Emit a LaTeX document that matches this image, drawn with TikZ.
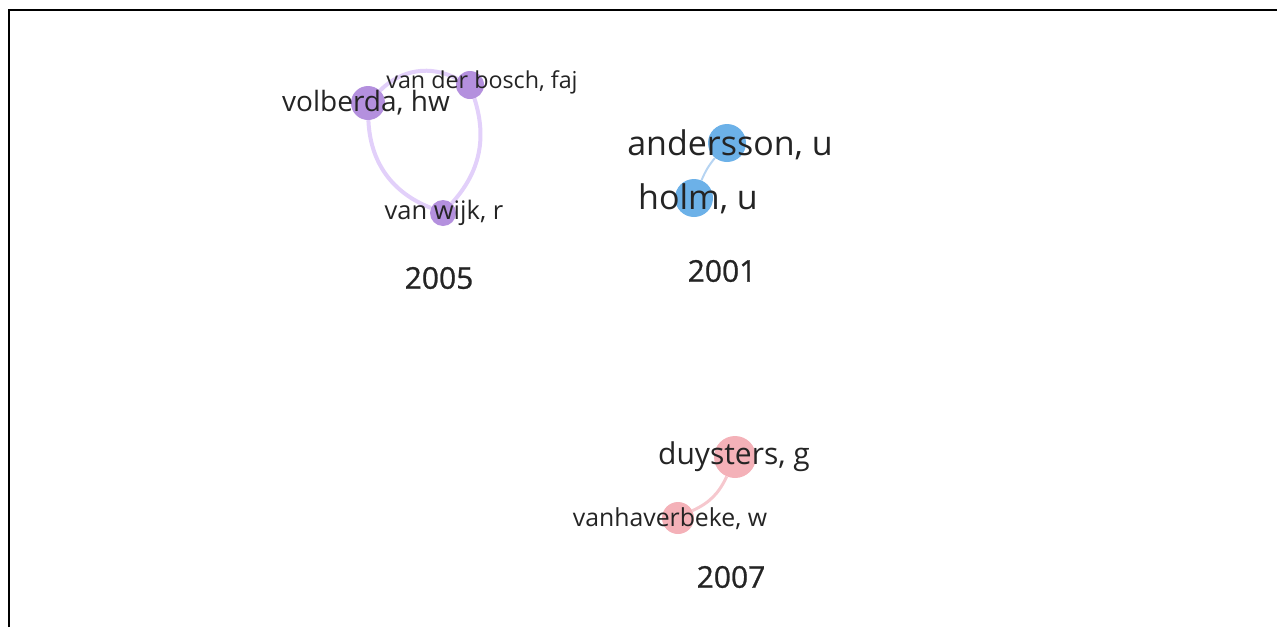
\documentclass[tikz,border=0pt]{standalone}
\usepackage{fontspec}
\setmainfont{Open Sans}
\newfontfamily\yearfont{Open Sans}[FakeBold=0.8]
\usetikzlibrary{positioning}
\pgfdeclarelayer{background}
\pgfsetlayers{background,main}
\definecolor{purplenode}{RGB}{172,132,218}
\definecolor{purplelink}{RGB}{226,208,250}
\definecolor{bluenode}{RGB}{92,168,230}
\definecolor{bluelink}{RGB}{182,212,242}
\definecolor{pinknode}{RGB}{243,168,176}
\definecolor{pinklink}{RGB}{246,200,206}
\definecolor{labeltext}{RGB}{36,36,36}
\newcommand{\fsz}[1]{\fontsize{#1}{#1}\selectfont}

\begin{document}
\begin{tikzpicture}[x=1pt,y=-1pt,
    author/.style={circle,inner sep=0pt,draw=none,fill opacity=0.9},
    authorlabel/.style={text=labeltext,inner sep=0pt},
    yearlabel/.style={text=labeltext,inner sep=0pt,font=\yearfont\fsz{30}}]
   \useasboundingbox (0,0) rectangle (1277,627);
   \draw[line width=2.5pt] (9,627) -- (9,10) -- (1277,10);

   % 2005 cluster
   \node [author,fill=purplenode,minimum size=34] (volberda) at (368,103) {};
   \node [author,fill=purplenode,minimum size=28] (bosch) at (470,85) {};
   \node [author,fill=purplenode,minimum size=26] (wijk) at (443,213) {};
   \node [authorlabel,font=\fsz{28}] (volberda_l) at (366,103) {volberda, hw};
   \node [authorlabel,font=\fsz{23.3}] (bosch_l) at (482,82) {van der bosch, faj};
   \node [authorlabel,font=\fsz{25.5}] (wijk_l) at (444,213) {van wijk, r};
   \node [yearlabel] (y2005) at (439,278) {2005};

   % 2001 cluster
   \node [author,fill=bluenode,minimum size=38] (andersson) at (727,143) {};
   \node [author,fill=bluenode,minimum size=38] (holm) at (694,198) {};
   \node [authorlabel,font=\fsz{34}] (andersson_l) at (730,145) {andersson, u};
   \node [authorlabel,font=\fsz{34}] (holm_l) at (698,199) {holm, u};
   \node [yearlabel] (y2001) at (722,271) {2001};

   % 2007 cluster
   \node [author,fill=pinknode,minimum size=42] (duysters) at (735,457) {};
   \node [author,fill=pinknode,minimum size=32] (vanhaverbeke) at (678,518) {};
   \node [authorlabel,font=\fsz{30}] (duysters_l) at (734,457) {duysters, g};
   \node [authorlabel,font=\fsz{24.8}] (vanhaverbeke_l) at (670,519) {vanhaverbeke, w};
   \node [yearlabel] (y2007) at (731,577) {2007};

   \begin{pgfonlayer}{background}
    \path[draw=purplelink,line width=4pt]
    (volberda) edge [bend left=36] (bosch)
               edge [bend right=33] (wijk)
    (bosch) edge [bend left=30] (wijk);
    \path[draw=bluelink,line width=2pt]
    (andersson) edge [bend right=8] (holm);
    \path[draw=pinklink,line width=3pt]
    (duysters) edge [bend left=20] (vanhaverbeke);
   \end{pgfonlayer}
\end{tikzpicture}
\end{document}
